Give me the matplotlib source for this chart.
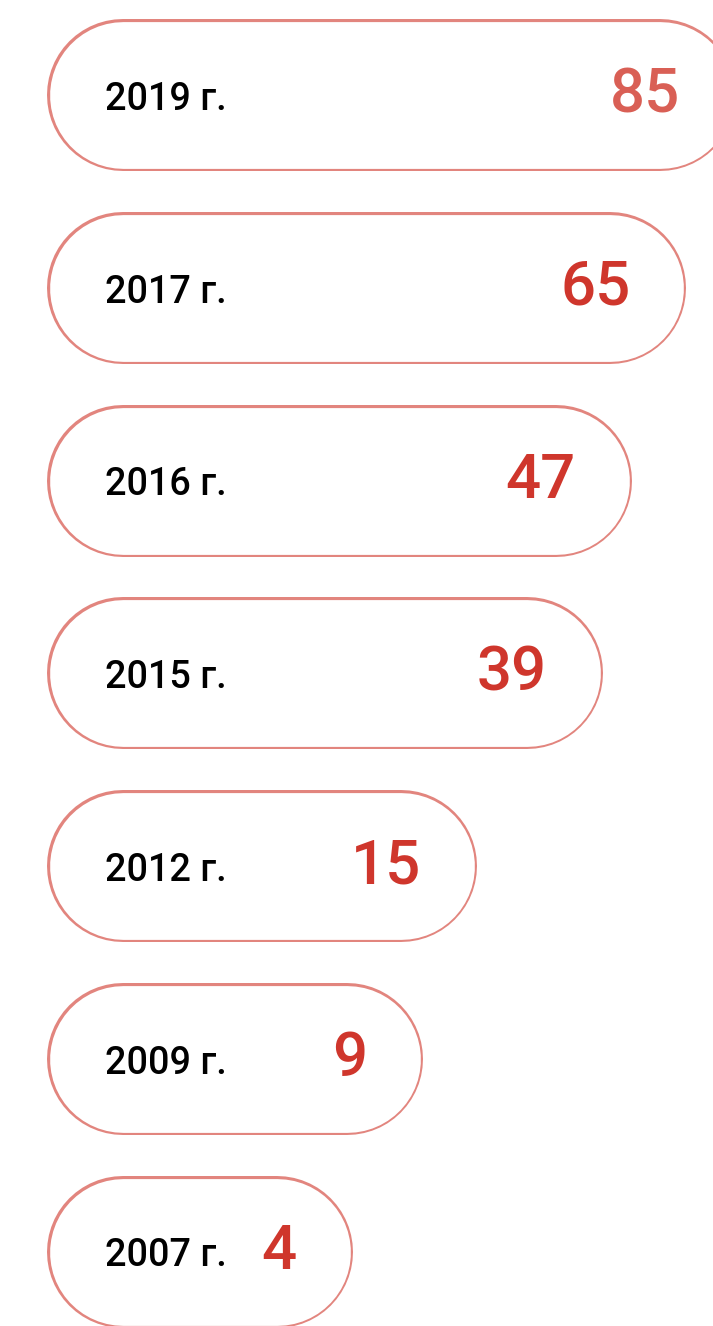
import numpy as np
import matplotlib
matplotlib.use("Agg")
import matplotlib.pyplot as plt

years = ["2019 г.", "2017 г.", "2016 г.", "2015 г.", "2012 г.", "2009 г.", "2007 г."]
values = [85, 65, 47, 39, 15, 9, 4]
value_colors = ["#d95f55", "#cf362c", "#cf362c", "#cf362c", "#cf362c", "#cf362c", "#cf362c"]

edge_color = "#e2857e"
start = 0.184  # where every pill begins (left cap centre)

plt.rcParams["font.family"] = ["Roboto", "DejaVu Sans"]

fig = plt.figure(figsize=(7.13, 13.26), dpi=100)
ax = fig.add_axes([0.0304, 0.0, 0.9696, 1.0])

# power scale: bar lengths grow sub-linearly with the value
p = 0.3
ax.set_xscale("function", functions=(lambda x: np.abs(x) ** p, lambda y: np.abs(y) ** (1 / p)))
ax.set_xlim(0, 111)
ax.set_ylim(6.385, -0.493)
ax.axis("off")

# pill height in points (152 px)
h = 152 * 72 / 100
lw_edge = 2.6 * 72 / 100

y = np.arange(len(years))
for yi, year, v, c in zip(y, years, values, value_colors):
    ax.plot([start, v], [yi, yi], color=edge_color, lw=h, solid_capstyle="round", clip_on=False)
    ax.plot([start, v], [yi, yi], color="white", lw=h - 2 * lw_edge, solid_capstyle="round", clip_on=False)
    ax.annotate(year, xy=(start, yi), xytext=(-18 * 72 / 100, -3), textcoords="offset points",
                ha="left", va="center", fontsize=27.2, fontweight="medium", color="black")
    ax.annotate(str(v), xy=(v, yi), xytext=(20 * 72 / 100, 0), textcoords="offset points",
                ha="right", va="center", fontsize=44.5, fontweight="medium", color=c,
                annotation_clip=False)

fig.savefig("out.png", dpi=100)
